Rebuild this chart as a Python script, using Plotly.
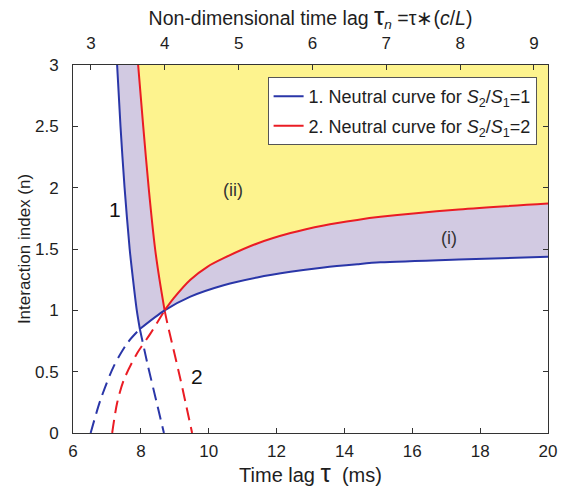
import plotly.graph_objects as go

# ---- data ----
# curve 1 (S2/S1=1), steep branch
c1_steep_n_solid = [3.0, 2.5, 2.0, 1.5, 1.25, 1.0, 0.848]
c1_steep_t_solid = [7.30, 7.40, 7.52, 7.67, 7.77, 7.88, 7.97]
c1_steep_n_dash = [0.848, 0.57, 0.244, 0.0]
c1_steep_t_dash = [7.97, 8.19, 8.47, 8.68]
# curve 1, lower branch
c1_low_t_dash = [6.52, 6.81, 7.20, 7.60, 7.97]
c1_low_n_dash = [0.0, 0.27, 0.543, 0.733, 0.848]
c1_low_t_solid = [7.97, 8.70, 9.46, 10.44, 11.43, 12.41, 13.39, 14.38, 15.06, 17.37, 20.0]
c1_low_n_solid = [0.848, 1.00, 1.112, 1.205, 1.268, 1.314, 1.350, 1.376, 1.391, 1.415, 1.436]

# curve 2 (S2/S1=2), steep branch
c2_steep_n_solid = [3.0, 2.5, 2.0, 1.5, 1.25, 1.0]
c2_steep_t_solid = [7.92, 8.07, 8.23, 8.42, 8.55, 8.70]
c2_steep_n_dash = [1.0, 0.896, 0.434, 0.0]
c2_steep_t_dash = [8.70, 8.78, 9.17, 9.51]
# curve 2, lower branch
c2_low_t_dash = [7.155, 7.30, 7.50, 7.89, 8.28, 8.70]
c2_low_n_dash = [0.0, 0.244, 0.434, 0.65, 0.81, 1.0]
c2_low_t_solid = [8.70, 8.97, 9.46, 9.96, 10.44, 11.43, 12.41, 13.39, 14.38, 15.06, 17.37, 20.0]
c2_low_n_solid = [1.00, 1.10, 1.25, 1.355, 1.425, 1.545, 1.630, 1.692, 1.737, 1.762, 1.822, 1.870]

c_over_L = 0.4595  # tau_n = tau * (c/L)
x_range = [6, 20]
y_range = [0, 3]
x_ticks = [6, 8, 10, 12, 14, 16, 18, 20]
xn_ticks = [3, 4, 5, 6, 7, 8, 9]
y_ticks = [0, 0.5, 1, 1.5, 2, 2.5, 3]
y_ticktext = ["0", "0.5", "1", "1.5", "2", "2.5", "3"]

BLUE = "#2a36a8"
RED = "#ea1c24"
LAV = "#d2cae2"
YEL = "#fdf38e"
DASH = "13px,7px"

fig = go.Figure()

# lavender region: right of blue steep branch and above blue lower branch
lav_x = c1_steep_t_solid + c1_low_t_solid[1:] + [x_range[1], c1_steep_t_solid[0]]
lav_y = c1_steep_n_solid + c1_low_n_solid[1:] + [y_range[1], y_range[1]]
fig.add_trace(go.Scatter(x=lav_x, y=lav_y, fill="toself", fillcolor=LAV, mode="none",
                         showlegend=False, hoverinfo="skip"))
# yellow region: right of red steep branch and above red lower branch
yel_x = c2_steep_t_solid + c2_low_t_solid[1:] + [x_range[1], c2_steep_t_solid[0]]
yel_y = c2_steep_n_solid + c2_low_n_solid[1:] + [y_range[1], y_range[1]]
fig.add_trace(go.Scatter(x=yel_x, y=yel_y, fill="toself", fillcolor=YEL, mode="none",
                         showlegend=False, hoverinfo="skip"))

def line(x, y, color, dash="solid", name=None, legend=False, group=None):
    fig.add_trace(go.Scatter(x=x, y=y, mode="lines", name=name, showlegend=legend,
                             legendgroup=group,
                             line=dict(color=color, width=2, dash=dash, shape="spline", smoothing=0.8),
                             hoverinfo="skip"))

line(c1_steep_t_dash, c1_steep_n_dash, BLUE, DASH)
line(c1_low_t_dash, c1_low_n_dash, BLUE, DASH)
line(c2_steep_t_dash, c2_steep_n_dash, RED, DASH)
line(c2_low_t_dash, c2_low_n_dash, RED, DASH)
line(c1_steep_t_solid, c1_steep_n_solid, BLUE)
line(c2_steep_t_solid, c2_steep_n_solid, RED)
line(c1_low_t_solid, c1_low_n_solid, BLUE,
     name="1. Neutral curve for <i>S</i><sub>2</sub>/<i>S</i><sub>1</sub>=1", legend=True, group="g1")
line(c2_low_t_solid, c2_low_n_solid, RED,
     name="2. Neutral curve for <i>S</i><sub>2</sub>/<i>S</i><sub>1</sub>=2", legend=True, group="g2")

# invisible trace for the top axis
fig.add_trace(go.Scatter(x=[x_range[0] * c_over_L, x_range[1] * c_over_L], y=[None, None],
                         xaxis="x2", mode="lines", showlegend=False, hoverinfo="skip"))

FONT = "Liberation Sans, Arial, sans-serif"
TXT = "#1e1e1e"
for txt, x, y, s, col in [("1", 7.25, 1.82, 21, "#111"), ("(ii)", 10.73, 1.98, 18, "#333"),
                          ("(i)", 17.08, 1.59, 18, "#333"), ("2", 9.66, 0.46, 21, "#111")]:
    fig.add_annotation(x=x, y=y, text=txt, showarrow=False,
                       font=dict(family=FONT, size=s, color=col))

def axis_common(size, standoff):
    return dict(ticks="inside", ticklen=5, tickcolor="#333", showgrid=False,
                zeroline=False, tickfont=dict(family=FONT, size=size, color=TXT),
                ticklabelstandoff=standoff, automargin=False)

fig.update_layout(
    width=564, height=488,
    margin=dict(l=73, r=16, t=65, b=55),
    paper_bgcolor="white", plot_bgcolor="white",
    font=dict(family=FONT, color=TXT),
    xaxis=dict(range=x_range, tickvals=x_ticks, showline=True, linecolor="#333", linewidth=1,
               mirror=True,
               title=dict(text="Time lag <span style='font-size:26px'>τ</span>  (ms)",
                          font=dict(family=FONT, size=20, color=TXT), standoff=3),
               **axis_common(17, 3)),
    xaxis2=dict(range=[x_range[0] * c_over_L, x_range[1] * c_over_L], tickvals=xn_ticks,
                overlaying="x", side="top", showline=False,
                title=dict(text="Non-dimensional time lag <span style='font-size:26px'>τ</span><sub><i>n</i></sub> =τ∗(<i>c</i>/<i>L</i>)",
                           font=dict(family=FONT, size=19.5, color=TXT), standoff=2),
                **axis_common(17, 12)),
    yaxis=dict(range=y_range, tickvals=y_ticks, ticktext=y_ticktext,
               showline=True, linecolor="#333", linewidth=1, mirror="ticks",
               title=dict(text="Interaction index (n)", font=dict(family=FONT, size=17, color=TXT),
                          standoff=0),
               **axis_common(17, 10)),
    legend=dict(x=0.976, y=0.967, xanchor="right", yanchor="top", bgcolor="white",
                bordercolor="#555", borderwidth=1, font=dict(family=FONT, size=18, color=TXT),
                tracegroupgap=3),
)

fig.write_html("out.html")
